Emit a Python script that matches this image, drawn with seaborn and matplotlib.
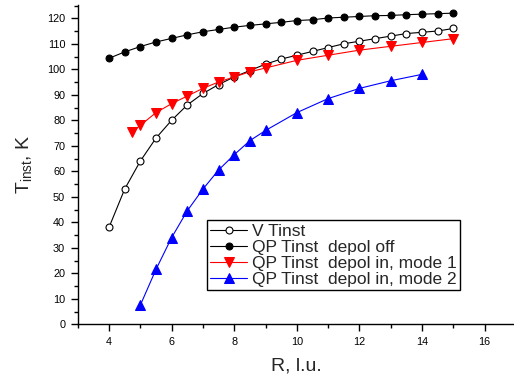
import matplotlib
matplotlib.use("Agg")
import matplotlib.pyplot as plt
from matplotlib.ticker import MultipleLocator
import seaborn as sns
import numpy as np

# V Tinst (open circles)
r_v = [4, 4.5, 5, 5.5, 6, 6.5, 7, 7.5, 8, 8.5, 9, 9.5, 10, 10.5, 11, 11.5,
       12, 12.5, 13, 13.5, 14, 14.5, 15]
t_v = [38, 53, 64, 73, 80, 86, 90.5, 94, 97, 99.5, 102, 104, 105.5, 107, 108.5,
       110, 111, 112, 113, 114, 114.5, 115, 116]

# QP Tinst depol off (filled circles)
r_off = [4, 4.5, 5, 5.5, 6, 6.5, 7, 7.5, 8, 8.5, 9, 9.5, 10, 10.5, 11, 11.5,
         12, 12.5, 13, 13.5, 14, 14.5, 15]
t_off = [104.3, 106.8, 108.9, 110.7, 112.1, 113.5, 114.7, 115.6, 116.5, 117.2,
         117.8, 118.4, 119.1, 119.4, 120.1, 120.4, 120.7, 121, 121.1, 121.4,
         121.6, 121.8, 122]

# QP Tinst depol in, mode 1 (red down triangles)
r_m1 = [4.75, 5, 5.5, 6, 6.5, 7, 7.5, 8, 8.5, 9, 10, 11, 12, 13, 14, 15]
t_m1 = [75.5, 78, 83, 86.5, 89.5, 92.5, 95, 97, 99, 100.5, 103.5, 105.5,
        107.5, 109, 110.5, 112]

# QP Tinst depol in, mode 2 (blue up triangles)
r_m2 = [5, 5.5, 6, 6.5, 7, 7.5, 8, 8.5, 9, 10, 11, 12, 13, 14]
t_m2 = [7.5, 21.5, 34, 44.5, 53, 60.5, 66.5, 72, 76, 83, 88.5, 92.5, 95.5, 98]

sns.set_style("ticks")
plt.rcParams['font.family'] = ['Liberation Sans', 'DejaVu Sans']
plt.rcParams['mathtext.fontset'] = 'custom'
plt.rcParams['mathtext.rm'] = 'Liberation Sans'

fig = plt.figure(figsize=(5.14, 3.85), dpi=100)
ax = fig.add_axes([0.1512, 0.1577, 0.849, 0.830])

sns.lineplot(x=r_v, y=t_v, ax=ax, color='black', linewidth=0.8,
             marker='o', markersize=5, markerfacecolor='white',
             markeredgecolor='black', markeredgewidth=0.8, label='V Tinst')
sns.lineplot(x=r_off, y=t_off, ax=ax, color='black', linewidth=0.8,
             marker='o', markersize=5, markerfacecolor='black',
             markeredgecolor='black', label='QP Tinst  depol off')
sns.lineplot(x=r_m1, y=t_m1, ax=ax, color='red', linewidth=0.8,
             marker='v', markersize=6.5, markerfacecolor='red',
             markeredgecolor='red', label='QP Tinst  depol in, mode 1')
sns.lineplot(x=r_m2, y=t_m2, ax=ax, color='blue', linewidth=0.8,
             marker='^', markersize=6.5, markerfacecolor='blue',
             markeredgecolor='blue', label='QP Tinst  depol in, mode 2')

ax.set_xlim(3, 16.94)
ax.set_ylim(0, 125.3)
ax.xaxis.set_major_locator(MultipleLocator(2))
ax.xaxis.set_minor_locator(MultipleLocator(1))
ax.yaxis.set_major_locator(MultipleLocator(10))
ax.yaxis.set_minor_locator(MultipleLocator(5))
ax.tick_params(axis='both', which='major', direction='out', length=5,
               width=1, labelsize=7.8, colors='black', pad=4)
ax.tick_params(axis='both', which='minor', direction='out', length=3,
               width=1, colors='black')

for side in ['top', 'right']:
    ax.spines[side].set_visible(False)
for side in ['left', 'bottom']:
    ax.spines[side].set_linewidth(1)
    ax.spines[side].set_color('black')

ax.set_xlabel('R, l.u.', fontsize=14, labelpad=8)
ax.set_ylabel(r'T$_\mathregular{inst}$, K', fontsize=14, labelpad=9)

leg = ax.legend(loc='upper left', bbox_to_anchor=(0.296, 0.326),
                borderaxespad=0, fontsize=12.5, frameon=True, fancybox=False,
                handlelength=2.1, handletextpad=0.3, labelspacing=0.05,
                borderpad=0.2)
leg.get_frame().set_edgecolor('black')
leg.get_frame().set_linewidth(1)
leg.get_frame().set_alpha(1)

fig.savefig('out.png', dpi=100)
